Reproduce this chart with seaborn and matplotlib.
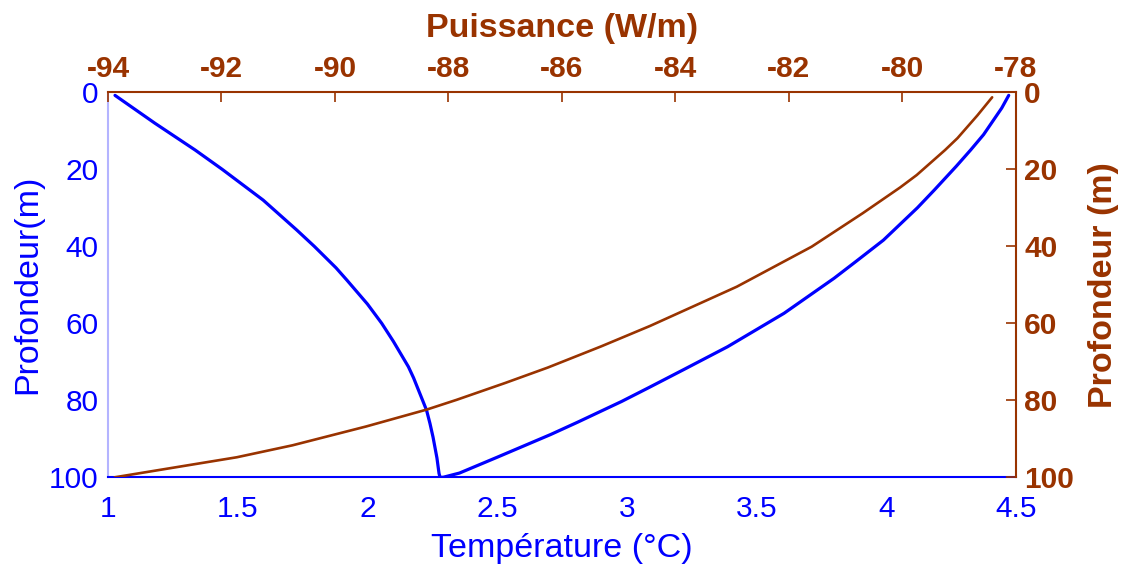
import matplotlib
matplotlib.use("Agg")
import matplotlib.pyplot as plt
import seaborn as sns
import pandas as pd

# Fluid temperature along the U-tube: going down, then coming back up
depth_down = [0.8, 8, 15, 20, 28, 35.8, 40, 45.6, 48.8, 55, 60, 64.7, 71.3, 74.2,
              79.9, 82.6, 86, 89.6, 95, 99, 100]
temp_down = [1.027, 1.18, 1.336, 1.44, 1.598, 1.728, 1.795, 1.879, 1.921, 2.00, 2.055,
             2.10, 2.158, 2.178, 2.212, 2.228, 2.241, 2.253, 2.268, 2.276, 2.280]
depth_up = [100, 98.9, 94.8, 88.9, 85.7, 80.3, 76.7, 72, 66.1, 57.4, 48.3, 43.9, 38.4,
            30.0, 25.4, 19.2, 15.0, 11.0, 4.1, 0.8]
temp_up = [2.292, 2.355, 2.500, 2.706, 2.81, 2.98, 3.085, 3.22, 3.388, 3.606, 3.799,
           3.884, 3.989, 4.12, 4.185, 4.27, 4.325, 4.375, 4.445, 4.472]

# Linear power exchanged with the ground
depth_power = [100, 94.8, 91.7, 86.8, 82.4, 79.9, 75.5, 71.5, 66, 60.7, 50.5, 40.1,
               31.4, 24.7, 21.5, 15.0, 11.9, 6, 1.3]
power = [-93.88, -91.73, -90.75, -89.45, -88.38, -87.86, -87.0, -86.25, -85.31, -84.45,
         -82.92, -81.6, -80.7, -80.04, -79.75, -79.25, -79.03, -78.68, -78.42]

temp_ticks = [1, 1.5, 2, 2.5, 3, 3.5, 4, 4.5]
temp_ticklabels = ["1", "1.5", "2", "2.5", "3", "3.5", "4", "4.5"]
power_ticks = [-94, -92, -90, -88, -86, -84, -82, -80, -78]
depth_ticks = [0, 20, 40, 60, 80, 100]

BLUE = "#0000FF"
BROWN = "#993300"
LIGHT_BLUE = "#B4B4FF"

sns.set_style("white")
plt.rcParams["font.family"] = ["Liberation Sans", "DejaVu Sans"]
plt.rcParams["axes.unicode_minus"] = False

TICK_SIZE = 21.5
LABEL_SIZE = 24.5

temp_df = pd.DataFrame({
    "Température": temp_down + temp_up,
    "Profondeur": depth_down + depth_up,
})
power_df = pd.DataFrame({"Puissance": power, "Profondeur": depth_power})

fig = plt.figure(figsize=(11.25, 5.69), dpi=100)
rect = [0.096, 0.1612, 0.8071, 0.6766]

# Main axes: temperature (bottom) vs depth (left)
ax = fig.add_axes(rect)
sns.lineplot(data=temp_df, x="Température", y="Profondeur", sort=False,
             estimator=None, color=BLUE, linewidth=2.3, ax=ax)
ax.set_xlim(1, 4.5)
ax.set_ylim(100, 0)
ax.set_xticks(temp_ticks)
ax.set_xticklabels(temp_ticklabels)
ax.set_yticks(depth_ticks)
ax.tick_params(axis="both", direction="in", length=7, width=1.2, colors=BLUE,
               labelsize=TICK_SIZE)
ax.tick_params(axis="x", pad=13)
ax.tick_params(axis="y", pad=7)
ax.set_xlabel("Température (°C)", color=BLUE, fontsize=LABEL_SIZE, labelpad=7)
ax.set_ylabel("Profondeur(m)", color=BLUE, fontsize=LABEL_SIZE, labelpad=4)
ax.spines["left"].set_color(LIGHT_BLUE)
ax.spines["bottom"].set_color(BLUE)
for s in ["left", "bottom"]:
    ax.spines[s].set_linewidth(1.5)
ax.spines["top"].set_visible(False)
ax.spines["right"].set_visible(False)

# Overlay axes: power (top) vs depth (right)
ax2 = fig.add_axes(rect, facecolor="none")
sns.lineplot(data=power_df, x="Puissance", y="Profondeur", sort=False,
             estimator=None, color=BROWN, linewidth=1.9, ax=ax2)
ax2.set_xlim(-94, -78)
ax2.set_ylim(100, 0)
ax2.set_xticks(power_ticks)
ax2.set_yticks(depth_ticks)
ax2.xaxis.set_ticks_position("top")
ax2.xaxis.set_label_position("top")
ax2.yaxis.set_ticks_position("right")
ax2.yaxis.set_label_position("right")
ax2.tick_params(axis="both", direction="in", length=7, width=1.2, colors=BROWN,
                labelsize=TICK_SIZE)
ax2.tick_params(axis="x", pad=6.5)
ax2.tick_params(axis="y", pad=6)
for lbl in ax2.get_xticklabels() + ax2.get_yticklabels():
    lbl.set_fontweight("bold")
ax2.set_xlabel("Puissance (W/m)", color=BROWN, fontsize=LABEL_SIZE, fontweight="bold",
               labelpad=13)
ax2.set_ylabel("Profondeur (m)", color=BROWN, fontsize=LABEL_SIZE, fontweight="bold",
               labelpad=10)
ax2.spines["top"].set_color(BROWN)
ax2.spines["right"].set_color(BROWN)
for s in ["top", "right"]:
    ax2.spines[s].set_linewidth(1.5)
ax2.spines["left"].set_visible(False)
ax2.spines["bottom"].set_visible(False)
ax2.grid(False)
ax.grid(False)

fig.savefig("out.png", dpi=100)
